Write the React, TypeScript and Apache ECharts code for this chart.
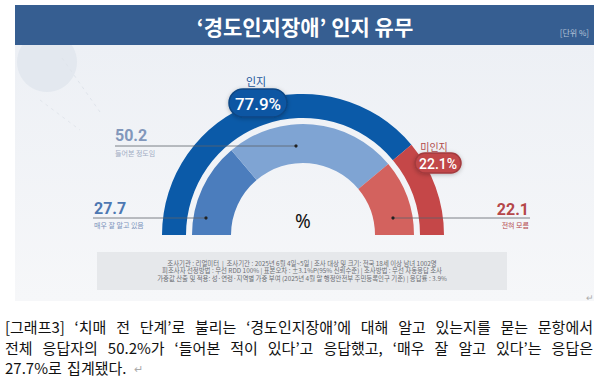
import React, { useEffect, useRef } from "react";
import * as echarts from "echarts";

const titleText = "‘경도인지장애’ 인지 유무";
const unitText = "[단위 %]";
const centerText = "%";

const outerNames = ["인지", "미인지"];
const outerValues = [77.9, 22.1];
const innerNames = ["매우 잘 알고 있음", "들어본 정도임", "전혀 모름"];
const innerValues = [27.7, 50.2, 22.1];

const footerLines = [
  "조사기관 : 리얼미터  |  조사기간 : 2025년 6월 4일~5일 | 조사 대상 및 크기: 전국 18세 이상 남녀 1002명",
  "피조사자 선정방법 : 무선 RDD 100% | 표본오차 : ±3.1%P(95% 신뢰수준) | 조사방법 : 무선 자동응답 조사",
  "가중값 산출 및 적용: 성·연령·지역별 가중 부여 (2025년 4월 말 행정안전부 주민등록인구 기준) | 응답률 : 3.9%",
];

const captionLines = [
  ["[그래프3]", "‘치매", "전", "단계’로", "불리는", "‘경도인지장애’에", "대해", "알고", "있는지를", "묻는", "문항에서"],
  ["전체", "응답자의", "50.2%가", "‘들어본", "적이", "있다’고", "응답했고,", "‘매우", "잘", "알고", "있다’는", "응답은"],
  ["27.7%로", "집계됐다."],
];

const KR = '"Noto Sans CJK KR", "Noto Sans", sans-serif';

function measure(text: string, font: string): number {
  const c = document.createElement("canvas");
  const ctx = c.getContext("2d")!;
  ctx.font = font;
  return ctx.measureText(text).width;
}

export default function App() {
  const ref = useRef<HTMLDivElement>(null);
  useEffect(() => {
    if (!ref.current) return;
    const chart = echarts.init(ref.current, undefined, { renderer: "svg" });
    const cx = 303;
    const cy = 235;
    const TOP = 100;

    const fmt = (v: number) => v.toFixed(1);

    // caption words, justified
    const capFontSize = 15;
    const capFont = `${capFontSize}px "Noto Sans CJK KR"`;
    const capLeft = 5;
    const capRight = 593;
    const capY = [326, 347, 367];
    const capEls: any[] = [];
    captionLines.forEach((words, li) => {
      const widths = words.map((w) => measure(w, capFont));
      const total = widths.reduce((a, b) => a + b, 0);
      const justify = li < captionLines.length - 1;
      const gap = justify ? (capRight - capLeft - total) / (words.length - 1) : measure(" ", capFont) + 2;
      let x = capLeft;
      words.forEach((w, i) => {
        capEls.push({
          type: "text",
          x,
          y: capY[li],
          z: TOP,
          style: { text: w, font: capFont, fill: "#111", textVerticalAlign: "middle", textAlign: "left" },
        });
        x += widths[i] + gap;
      });
      if (!justify) {
        capEls.push({
          type: "text",
          x: x + 2,
          y: capY[li] + 1,
          z: TOP,
          style: { text: "↵", font: `11px ${KR}`, fill: "#aaa", textVerticalAlign: "middle" },
        });
      }
    });

    const bubble = (x: number, y: number, w: number, h: number, fill: string, stroke: string, text: string, fs: number) => [
      {
        type: "rect",
        z: TOP,
        shape: { x, y, width: w, height: h, r: h / 2 },
        style: { fill, stroke, lineWidth: 1.5, shadowBlur: 4, shadowColor: "rgba(0,0,0,0.25)", shadowOffsetY: 1 },
      },
      {
        type: "text",
        z: TOP + 1,
        x: x + w / 2,
        y: y + h / 2 + 0.5,
        style: { text, font: `500 ${fs}px Roboto, "Noto Sans", sans-serif`, fill: "#fff", textAlign: "center", textVerticalAlign: "middle" },
      },
    ];

    const annotation = (
      valueText: string,
      subText: string,
      tx: number,
      ty: number,
      align: string,
      lineX1: number,
      lineX2: number,
      lineY: number,
      dotX: number,
      color: string,
      subColor: string
    ) => [
      {
        type: "line",
        z: TOP,
        shape: { x1: lineX1, y1: lineY, x2: lineX2, y2: lineY },
        style: { stroke: "#5e636b", lineWidth: 0.8 },
      },
      { type: "circle", z: TOP, shape: { cx: dotX, cy: lineY, r: 1.6 }, style: { fill: "#222" } },
      {
        type: "text",
        z: TOP,
        x: tx,
        y: ty,
        style: { text: valueText, font: `bold 16px Roboto, "Noto Sans", sans-serif`, fill: color, textAlign: align, textVerticalAlign: "middle" },
      },
      {
        type: "text",
        z: TOP,
        x: tx,
        y: lineY + 7,
        style: { text: subText, font: `7px ${KR}`, fill: subColor, textAlign: align, textVerticalAlign: "middle" },
      },
    ];

    chart.setOption({
      animation: false,
      backgroundColor: "#ffffff",
      series: [
        {
          type: "pie",
          silent: true,
          center: [cx, cy],
          radius: [117, 141],
          startAngle: 180,
          endAngle: 0,
          clockwise: true,
          label: { show: false },
          labelLine: { show: false },
          data: outerNames.map((n, i) => ({
            name: n,
            value: outerValues[i],
            itemStyle: { color: ["#0b5aa8", "#c54748"][i] },
          })),
        },
        {
          type: "pie",
          silent: true,
          center: [cx, cy],
          radius: [72, 111],
          startAngle: 180,
          endAngle: 0,
          clockwise: true,
          label: { show: false },
          labelLine: { show: false },
          data: innerNames.map((n, i) => ({
            name: n,
            value: innerValues[i],
            itemStyle: { color: ["#4b7dbd", "#7fa4d3", "#d3625e"][i] },
          })),
        },
      ],
      graphic: [
        // chart body background
        {
          type: "rect",
          z: -10,
          shape: { x: 15, y: 45, width: 579, height: 256 },
          style: {
            fill: new echarts.graphic.LinearGradient(0, 0, 0, 1, [
              { offset: 0, color: "#edf0f5" },
              { offset: 1, color: "#f6f7f9" },
            ]),
          },
        },
        { type: "circle", z: -9, shape: { cx: 47, cy: 62, r: 30 }, style: { fill: "#e3e8ef" } },
        { type: "line", z: -9, shape: { x1: 62, y1: 58, x2: 100, y2: 112 }, style: { stroke: "#dfe4eb", lineWidth: 1, lineDash: [3, 4] } },
        { type: "line", z: -9, shape: { x1: 40, y1: 100, x2: 80, y2: 130 }, style: { stroke: "#e2e6ec", lineWidth: 1, lineDash: [3, 4] } },
        // title banner
        { type: "rect", z: TOP, shape: { x: 15, y: 5, width: 579, height: 40 }, style: { fill: "#365e91" } },
        {
          type: "text",
          z: TOP,
          x: 305,
          y: 26,
          style: { text: titleText, font: `bold 21px ${KR}`, fill: "#ffffff", textAlign: "center", textVerticalAlign: "middle" },
        },
        {
          type: "text",
          z: TOP,
          x: 589,
          y: 32,
          style: { text: unitText, font: `8px ${KR}`, fill: "#b7c5d9", textAlign: "right", textVerticalAlign: "middle" },
        },
        // footer box
        { type: "rect", z: TOP, shape: { x: 97, y: 252, width: 410, height: 38 }, style: { fill: "#e6e8eb" } },
        ...footerLines.map((t, i) => ({
          type: "text",
          z: TOP,
          x: 302,
          y: 263 + i * 7.7,
          style: { text: t, font: `6.4px ${KR}`, fill: "#6b6e73", textAlign: "center", textVerticalAlign: "middle" },
        })),
        { type: "text", z: TOP, x: 590, y: 297, style: { text: "↵", font: `9px ${KR}`, fill: "#aaa", textAlign: "center", textVerticalAlign: "middle" } },
        // center %
        {
          type: "text",
          x: cx,
          y: 221,
          z: TOP,
          style: { text: centerText, font: `19px "Noto Sans", sans-serif`, fill: "#111", textAlign: "center", textVerticalAlign: "middle" },
        },
        // outer labels
        {
          type: "text",
          x: 256,
          y: 81,
          z: TOP,
          style: { text: outerNames[0], font: `11px ${KR}`, fill: "#23579b", textAlign: "center", textVerticalAlign: "middle" },
        },
        ...bubble(229, 89, 58, 28, "#0c57a3", "#0a4785", fmt(outerValues[0]) + "%", 17),
        {
          type: "text",
          x: 434,
          y: 146,
          z: TOP,
          style: { text: outerNames[1], font: `10px ${KR}`, fill: "#b04a4b", textAlign: "center", textVerticalAlign: "middle" },
        },
        ...bubble(415, 153, 46, 20, "#c1464a", "#a33a3d", fmt(outerValues[1]) + "%", 14),
        // inner annotations
        ...annotation(fmt(innerValues[1]), innerNames[1], 115, 135, "left", 115, 296, 146, 296, "#8297bb", "#9eabc2"),
        ...annotation(fmt(innerValues[0]), innerNames[0], 94, 208, "left", 93, 206, 218, 206, "#4d78b2", "#7b93bb"),
        ...annotation(fmt(innerValues[2]), innerNames[2], 529, 209, "right", 393, 530, 218, 393, "#b5474a", "#b5474a"),
        ...capEls,
      ],
    });
    return () => chart.dispose();
  }, []);

  return (
    <div style={{ position: "fixed", left: 0, top: 0, width: 600, height: 385, background: "#fff" }}>
      <div ref={ref} style={{ width: 600, height: 385 }} />
    </div>
  );
}
